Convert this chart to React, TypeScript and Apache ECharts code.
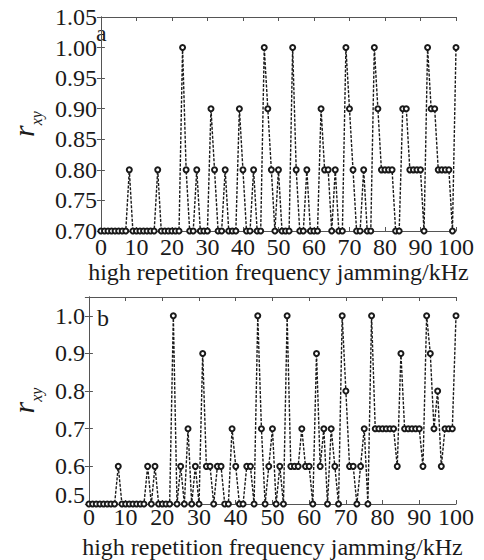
import React, { useEffect, useRef } from "react";
import * as echarts from "echarts";

// frequency grid, kHz (1 kHz step)
const kHz: number[] = Array.from({ length: 101 }, (_, i) => i);

// panel a: r_xy values
const rA: number[] = [
  0.7, 0.7, 0.7, 0.7, 0.7, 0.7, 0.7, 0.7, 0.8, 0.7,
  0.7, 0.7, 0.7, 0.7, 0.7, 0.7, 0.8, 0.7, 0.7, 0.7,
  0.7, 0.7, 0.7, 1.0, 0.8, 0.7, 0.7, 0.8, 0.7, 0.7,
  0.7, 0.9, 0.8, 0.7, 0.7, 0.8, 0.7, 0.7, 0.7, 0.9,
  0.8, 0.7, 0.7, 0.8, 0.7, 0.7, 1.0, 0.9, 0.8, 0.7,
  0.8, 0.7, 0.7, 0.7, 1.0, 0.8, 0.7, 0.7, 0.8, 0.7,
  0.7, 0.7, 0.9, 0.8, 0.8, 0.7, 0.8, 0.7, 0.7, 1.0,
  0.9, 0.8, 0.7, 0.7, 0.8, 0.7, 0.7, 1.0, 0.9, 0.8,
  0.8, 0.8, 0.8, 0.7, 0.7, 0.9, 0.9, 0.8, 0.8, 0.8,
  0.8, 0.7, 1.0, 0.9, 0.9, 0.8, 0.8, 0.8, 0.8, 0.7,
  1.0,
];

// panel b: r_xy values
const rB: number[] = [
  0.5, 0.5, 0.5, 0.5, 0.5, 0.5, 0.5, 0.5, 0.6, 0.5,
  0.5, 0.5, 0.5, 0.5, 0.5, 0.5, 0.6, 0.5, 0.6, 0.5,
  0.5, 0.5, 0.5, 1.0, 0.5, 0.6, 0.5, 0.7, 0.5, 0.6,
  0.5, 0.9, 0.6, 0.6, 0.5, 0.6, 0.6, 0.5, 0.5, 0.7,
  0.6, 0.5, 0.5, 0.6, 0.6, 0.5, 1.0, 0.7, 0.5, 0.6,
  0.7, 0.5, 0.6, 0.5, 1.0, 0.6, 0.6, 0.6, 0.7, 0.6,
  0.6, 0.5, 0.9, 0.6, 0.7, 0.5, 0.7, 0.6, 0.5, 1.0,
  0.8, 0.6, 0.6, 0.5, 0.6, 0.7, 0.5, 1.0, 0.7, 0.7,
  0.7, 0.7, 0.7, 0.7, 0.6, 0.9, 0.7, 0.7, 0.7, 0.7,
  0.7, 0.6, 1.0, 0.9, 0.7, 0.8, 0.6, 0.7, 0.7, 0.7,
  1.0,
];

const xName = "high repetition frequency jamming/kHz";
const yName = "{r|r}{s|xy}";
const panelLabels = ["a", "b"];

const FONT = "'Liberation Serif', 'Times New Roman', 'DejaVu Serif', serif";
const AXIS_COLOR = "#555";
const INK = "#1a1a1a";
const FS = 24;

export default function App() {
  const ref = useRef<HTMLDivElement>(null);

  useEffect(() => {
    if (!ref.current) return;
    const chart = echarts.init(ref.current, null, { renderer: "svg" });

    const grids = [
      { left: 82, top: 17, width: 374, height: 214 },
      { left: 82, top: 297, width: 374, height: 211 },
    ];
    const yCfg = [
      { min: 0.7, max: 1.05, interval: 0.05, digits: 2 },
      { min: 0.5, max: 1.05, interval: 0.1, digits: 1 },
    ];
    const labelMargins = [4, 1];

    const xAxes: any[] = [];
    const yAxes: any[] = [];
    grids.forEach((_, gi) => {
      xAxes.push({
        type: "value",
        gridIndex: gi,
        min: 0,
        max: 100,
        interval: 10,
        position: "bottom",
        axisLine: { show: true, lineStyle: { color: AXIS_COLOR, width: 1 } },
        axisTick: { show: true, inside: true, length: 4, lineStyle: { color: AXIS_COLOR } },
        axisLabel: {
          color: INK,
          fontFamily: FONT,
          fontSize: FS,
          margin: labelMargins[gi],
        },
        splitLine: { show: false },
        name: xName,
        nameLocation: "middle",
        nameGap: gi === 0 ? 28 : 31,
        nameTextStyle: { color: INK, fontFamily: FONT, fontSize: FS },
      });
      xAxes.push({
        type: "value",
        gridIndex: gi,
        min: 0,
        max: 100,
        interval: 10,
        position: "top",
        axisLine: { show: true, lineStyle: { color: AXIS_COLOR, width: 1 } },
        axisTick: { show: true, inside: true, length: 4, lineStyle: { color: AXIS_COLOR } },
        axisLabel: { show: false },
        splitLine: { show: false },
      });
      const yc = yCfg[gi];
      yAxes.push({
        type: "value",
        gridIndex: gi,
        min: yc.min,
        max: yc.max,
        interval: yc.interval,
        position: "left",
        axisLine: { show: true, lineStyle: { color: AXIS_COLOR, width: 1 } },
        axisTick: { show: true, inside: true, length: 4, lineStyle: { color: AXIS_COLOR } },
        axisLabel: {
          color: INK,
          fontFamily: FONT,
          fontSize: FS,
          margin: 4,
          formatter: (v: number) => {
            if (gi === 1 && Math.abs(v - 1.05) < 1e-6) return "";
            if (gi === 1 && Math.abs(v - yc.min) < 1e-6) return `{low|${v.toFixed(yc.digits)}}`;
            return v.toFixed(yc.digits);
          },
          rich: {
            low: { fontFamily: FONT, fontSize: FS, color: INK, padding: [0, 0, 18, 0] },
          },
        },
        splitLine: { show: false },
        name: yName,
        nameLocation: "middle",
        nameRotate: 90,
        nameGap: gi === 0 ? 56 : 40,
        nameTextStyle: {
          color: INK,
          fontFamily: FONT,
          rich: {
            r: { fontFamily: FONT, fontStyle: "italic", fontSize: 30, lineHeight: 28, color: INK, verticalAlign: "bottom" },
            s: { fontFamily: FONT, fontStyle: "italic", fontSize: 16, lineHeight: 28, color: INK, verticalAlign: "bottom", padding: [0, 0, -6, 0] },
          },
        },
      });
      yAxes.push({
        type: "value",
        gridIndex: gi,
        min: yc.min,
        max: yc.max,
        interval: yc.interval,
        position: "right",
        axisLine: { show: true, lineStyle: { color: AXIS_COLOR, width: 1 } },
        axisTick: { show: true, inside: true, length: 4, lineStyle: { color: AXIS_COLOR } },
        axisLabel: { show: false },
        splitLine: { show: false },
      });
    });

    const mkSeries = (vals: number[], gi: number) => ({
      type: "line",
      xAxisIndex: gi * 2,
      yAxisIndex: gi * 2,
      data: vals.map((v, i) => [kHz[i], v]),
      symbol: "emptyCircle",
      symbolSize: 5,
      showSymbol: true,
      showAllSymbol: true,
      clip: false,
      lineStyle: { color: INK, width: 1.4, type: [3, 1.5] },
      itemStyle: { color: INK, borderColor: INK, borderWidth: 1 },
      emphasis: { disabled: true },
      silent: true,
    });

    chart.setOption({
      animation: false,
      backgroundColor: "#fff",
      grid: grids.map((g) => ({ ...g, containLabel: false })),
      xAxis: xAxes,
      yAxis: yAxes,
      series: [mkSeries(rA, 0), mkSeries(rB, 1)],
      graphic: [
        {
          type: "text",
          x: 96,
          y: 33,
          style: { text: panelLabels[0], fontFamily: FONT, fontSize: FS, fill: INK, verticalAlign: "middle" },
        },
        {
          type: "text",
          x: 97,
          y: 318,
          style: { text: panelLabels[1], fontFamily: FONT, fontSize: FS, fill: INK, verticalAlign: "middle" },
        },
      ],
    });

    return () => chart.dispose();
  }, []);

  return (
    <div
      ref={ref}
      style={{ position: "absolute", left: 0, top: 0, width: 484, height: 560, background: "#fff" }}
    />
  );
}
